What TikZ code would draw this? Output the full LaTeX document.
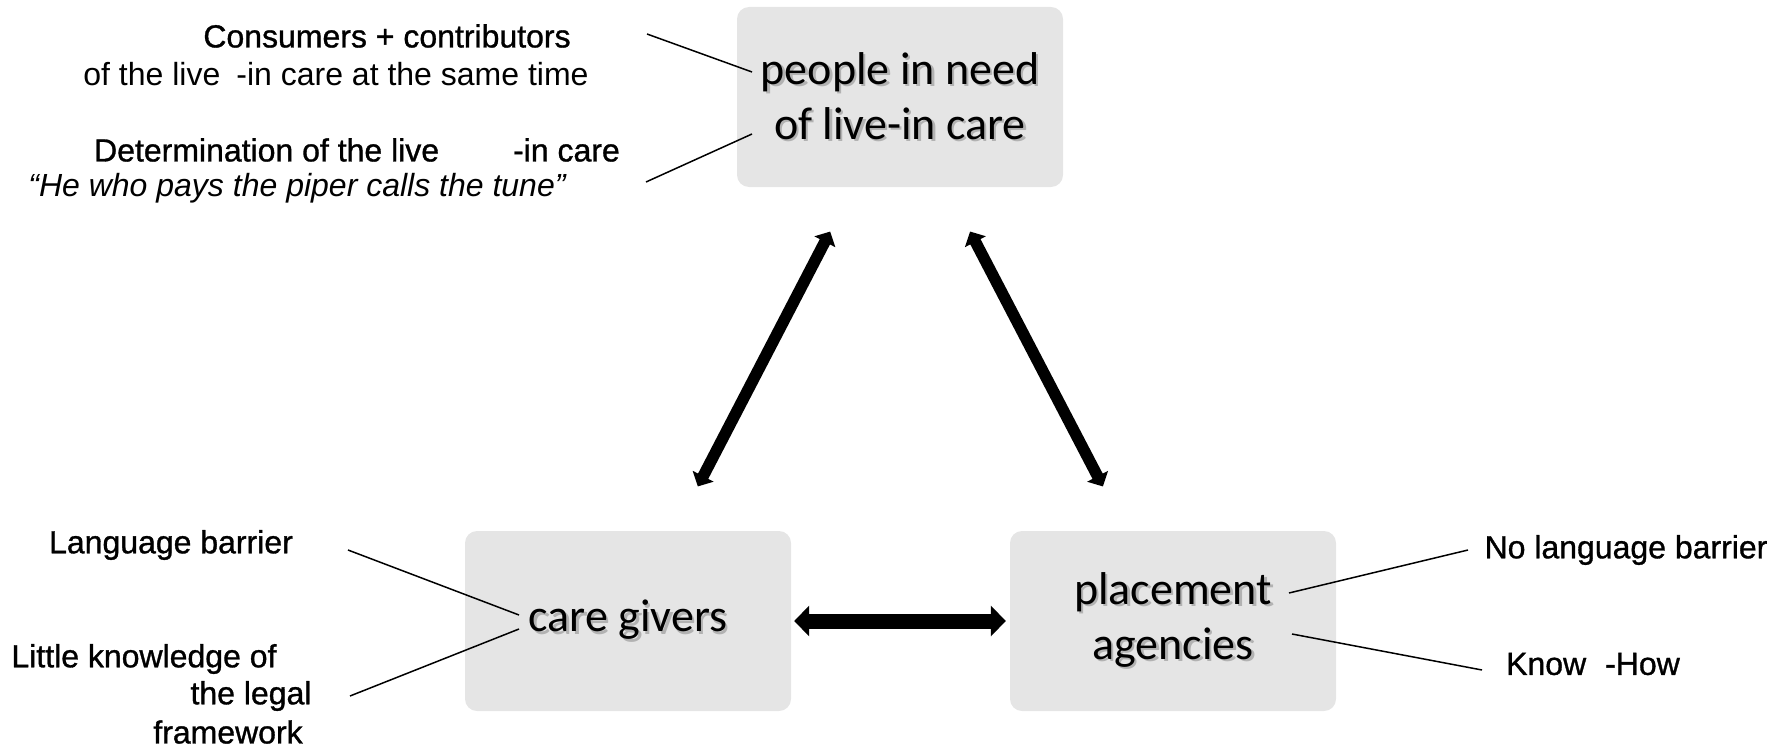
\documentclass[tikz,border=0pt]{standalone}
\usepackage{fontspec}
\setmainfont{Liberation Sans}
\newfontfamily\calib{Carlito}
\newfontfamily\heavyfont{Liberation Sans}[FakeBold=1]
\usetikzlibrary{arrows.meta,positioning}
\newcommand{\shadowed}[1]{\makebox[0pt][l]{\kern2.5pt\raisebox{-2.5pt}{\textcolor{black!30}{#1}}}#1}
\tikzset{
    roleblock/.style={
    rectangle,rounded corners=12pt,fill=black!10,minimum width=326pt,minimum height=180pt,
    align=center,font=\calib\fontsize{46}{55}\selectfont
    },
    remark/.style={
    inner sep=0pt,font=\fontsize{32}{38}\selectfont
    },
    hremark/.style={
    inner sep=0pt,font=\heavyfont\fontsize{32}{38}\selectfont
    },
    iremark/.style={
    inner sep=0pt,font=\fontsize{32}{38}\selectfont\itshape
    },
    pointer/.style={
    draw=black,line width=1.5pt
    },
    bigarrow/.style={
    draw=black,line width=11.5pt,
    {Triangle[length=0pt 1.0,width=0pt 2.0]}-{Triangle[length=0pt 1.0,width=0pt 2.0]},
    shorten <=50pt,shorten >=50pt
    },
    widearrow/.style={
    bigarrow,line width=15pt,shorten <=3pt,shorten >=4pt
    },
}
\begin{document}
\begin{tikzpicture}[x=1pt,y=-1pt]
  \useasboundingbox (0,0) rectangle (1787,749);

  \node[roleblock] (PIN) at (900,97) {\shadowed{people in need}\\\shadowed{of live-in care}};
  \node[roleblock] (CG) at (628,621) {\shadowed{care givers}};
  \node[roleblock] (PA) at (1173,621) {\shadowed{placement}\\\shadowed{agencies}};

  \node[hremark] (CONS) at (387,36) {Consumers + contributors};
  \node[remark] (SAME) at (336,74) {of the live\hspace{16pt}-in care at the same time};
  \node[hremark] (DET) at (357,150) {Determination of the live\hspace{74pt}-in care};
  \node[iremark] (PIPER) at (297,188) {“He who pays the piper calls the tune”};
  \node[hremark] (LANG) at (171,545) {Language barrier};
  \node[hremark] (LK1) at (144,659) {Little knowledge of};
  \node[hremark] (LK2) at (251,696) {the legal};
  \node[hremark] (LK3) at (228,732) {framework};
  \node[hremark] (NOLANG) at (1626,550) {No language barrier};
  \node[hremark] (KH) at (1593,664) {Know\hspace{19pt}-How};

  \coordinate (c1) at (647,34);   \coordinate (p1) at (752,72);
  \coordinate (c2) at (646,182);  \coordinate (p2) at (752,134);
  \coordinate (c3) at (348,550);  \coordinate (g1) at (519,615);
  \coordinate (c4) at (350,696);  \coordinate (g2) at (519,629);
  \coordinate (c5) at (1468,550); \coordinate (a1) at (1289,593);
  \coordinate (c6) at (1482,670); \coordinate (a2) at (1292,634);

  \path[-]
    (CG) edge [bigarrow] (PIN)
         edge [widearrow] (PA)
    (PA) edge [bigarrow] (PIN)
    (c1) edge [pointer] (p1)
    (c2) edge [pointer] (p2)
    (c3) edge [pointer] (g1)
    (c4) edge [pointer] (g2)
    (c5) edge [pointer] (a1)
    (c6) edge [pointer] (a2);

\end{tikzpicture}
\end{document}
